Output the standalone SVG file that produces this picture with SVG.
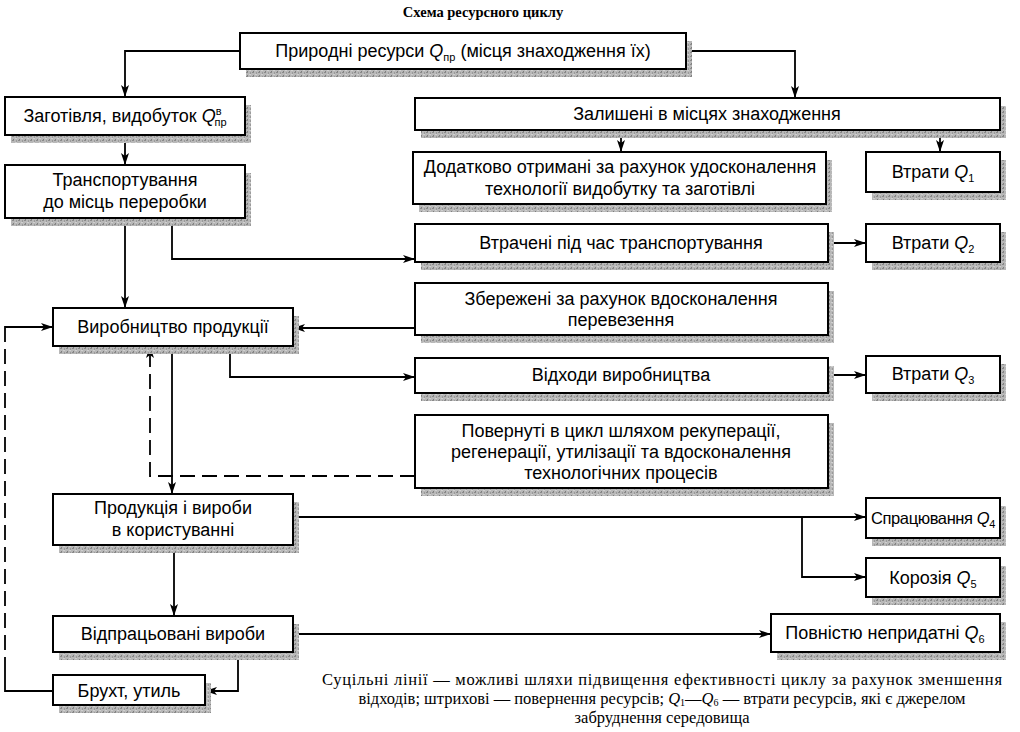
<svg xmlns="http://www.w3.org/2000/svg" width="1020" height="732" viewBox="0 0 1020 732">
<defs>
<marker id="ar" viewBox="0 0 12 8" refX="11" refY="4" markerWidth="12" markerHeight="8" markerUnits="userSpaceOnUse" orient="auto">
<path d="M0,0 L12,4 L0,8 L3,4 z" fill="#000"/>
</marker>
<pattern id="noise" width="6" height="4" patternUnits="userSpaceOnUse">
<rect width="6" height="4" fill="#b8b8b8"/>
<rect x="0" y="0" width="2" height="1" fill="#8a8a8a"/>
<rect x="3" y="2" width="2" height="1" fill="#d0d0d0"/>
<rect x="4" y="0" width="1" height="2" fill="#9a9a9a"/>
<rect x="1" y="3" width="1" height="1" fill="#7e7e7e"/>
</pattern>
</defs>
<style>
.sh{fill:url(#noise)}
.bx{fill:#fff;stroke:#000;stroke-width:2}
.t{font-family:"Liberation Sans",Arial,sans-serif;font-size:18px;text-anchor:middle;fill:#000}
.q{font-style:italic}
.s{font-size:11px}
.ln{fill:none;stroke:#000;stroke-width:1.8}
.ar{marker-end:url(#ar)}
.dash{stroke-dasharray:15,7}
.cap{font-family:"Liberation Serif","Times New Roman",serif;font-size:16.5px;text-anchor:middle;fill:#000}
.ttl{font-family:"Liberation Serif","Times New Roman",serif;font-size:14.5px;font-weight:bold;text-anchor:middle;fill:#000}
</style>
<rect width="1020" height="732" fill="#fff"/>
<text class="ttl" x="483" y="17">Схема ресурсного циклу</text>

<g id="connectors">
<path class="ln ar" d="M240,51 H125 V96"/>
<path class="ln ar" d="M686,51 H795 V97"/>
<path class="ln ar" d="M125,135 V164"/>
<path class="ln ar" d="M621,130 V151"/>
<path class="ln ar" d="M940,130 V151"/>
<path class="ln ar" d="M172,218 V259 H414"/>
<path class="ln ar" d="M125,218 V307"/>
<path class="ln ar" d="M828,243 H865"/>
<path class="ln ar" d="M415,328 H294"/>
<path class="ln ar" d="M230,346 V377 H414"/>
<path class="ln ar" d="M828,375 H865"/>
<path class="ln ar dash" d="M415,476 H150 V347"/>
<path class="ln ar" d="M172,346 V493"/>
<path class="ln ar" d="M293,517 H865"/>
<path class="ln ar" d="M802,517 V577 H865"/>
<path class="ln ar" d="M174,545 V615"/>
<path class="ln ar" d="M293,634 H770"/>
<path class="ln ar" d="M238,652 V691 H206"/>
<path class="ln" d="M53,691 H5 V672"/>
<path class="ln dash" d="M5,672 V342"/>
<path class="ln ar" d="M5,342 V327 H52"/>
</g>

<g id="n-pryrodni">
<rect class="sh" x="246" y="41" width="446" height="36"/>
<rect class="bx" x="240" y="33" width="446" height="36"/>
<text class="t" x="463" y="57">Природні ресурси <tspan class="q">Q</tspan><tspan class="s" dy="4">пр</tspan><tspan dy="-4"> (місця знаходження їх)</tspan></text>
</g>
<g id="n-zahotivlia">
<rect class="sh" x="11" y="105" width="240" height="38"/>
<rect class="bx" x="5" y="97" width="240" height="38"/>
<text class="t" x="125" y="122">Заготівля, видобуток <tspan class="q">Q</tspan><tspan class="s" dy="-7">в</tspan><tspan class="s" dx="-7" dy="11">пр</tspan></text>
</g>
<g id="n-transport">
<rect class="sh" x="11" y="173" width="240" height="53"/>
<rect class="bx" x="5" y="165" width="240" height="53"/>
<text class="t" x="125" y="186">Транспортування</text>
<text class="t" x="125" y="208">до місць переробки</text>
</g>
<g id="n-zalysheni">
<rect class="sh" x="421" y="106" width="585" height="32"/>
<rect class="bx" x="415" y="98" width="585" height="32"/>
<text class="t" x="707" y="120">Залишені в місцях знаходження</text>
</g>
<g id="n-dodatkovo">
<rect class="sh" x="419" y="160" width="413" height="52"/>
<rect class="bx" x="413" y="152" width="413" height="52"/>
<text class="t" x="620" y="173">Додатково отримані за рахунок удосконалення</text>
<text class="t" x="620" y="195">технології видобутку та заготівлі</text>
</g>
<g id="n-q1">
<rect class="sh" x="872" y="160" width="134" height="40"/>
<rect class="bx" x="866" y="152" width="134" height="40"/>
<text class="t" x="933" y="178">Втрати <tspan class="q">Q</tspan><tspan class="s" dy="4">1</tspan></text>
</g>
<g id="n-vtracheni">
<rect class="sh" x="421" y="232" width="413" height="38"/>
<rect class="bx" x="415" y="224" width="413" height="38"/>
<text class="t" x="621" y="249">Втрачені під час транспортування</text>
</g>
<g id="n-q2">
<rect class="sh" x="872" y="232" width="134" height="38"/>
<rect class="bx" x="866" y="224" width="134" height="38"/>
<text class="t" x="933" y="249">Втрати <tspan class="q">Q</tspan><tspan class="s" dy="4">2</tspan></text>
</g>
<g id="n-zberezheni">
<rect class="sh" x="421" y="291" width="413" height="52"/>
<rect class="bx" x="415" y="283" width="413" height="52"/>
<text class="t" x="621" y="305">Збережені за рахунок вдосконалення</text>
<text class="t" x="621" y="326">перевезення</text>
</g>
<g id="n-vyrobnytstvo">
<rect class="sh" x="59" y="316" width="240" height="38"/>
<rect class="bx" x="53" y="308" width="240" height="38"/>
<text class="t" x="173" y="333">Виробництво продукції</text>
</g>
<g id="n-vidkhody">
<rect class="sh" x="421" y="366" width="413" height="35"/>
<rect class="bx" x="415" y="358" width="413" height="35"/>
<text class="t" x="621" y="381">Відходи виробництва</text>
</g>
<g id="n-q3">
<rect class="sh" x="872" y="364" width="134" height="37"/>
<rect class="bx" x="866" y="356" width="134" height="37"/>
<text class="t" x="933" y="380">Втрати <tspan class="q">Q</tspan><tspan class="s" dy="4">3</tspan></text>
</g>
<g id="n-povernuti">
<rect class="sh" x="421" y="423" width="413" height="73"/>
<rect class="bx" x="415" y="415" width="413" height="73"/>
<text class="t" x="621" y="437">Повернуті в цикл шляхом рекуперації,</text>
<text class="t" x="621" y="458">регенерації, утилізації та вдосконалення</text>
<text class="t" x="621" y="479">технологічних процесів</text>
</g>
<g id="n-produktsiia">
<rect class="sh" x="59" y="502" width="240" height="51"/>
<rect class="bx" x="53" y="494" width="240" height="51"/>
<text class="t" x="173" y="514">Продукція і вироби</text>
<text class="t" x="173" y="536">в користуванні</text>
</g>
<g id="n-q4">
<rect class="sh" x="872" y="506" width="134" height="40"/>
<rect class="bx" x="866" y="498" width="134" height="40"/>
<text class="t" x="933" y="524" style="font-size:16.5px;letter-spacing:-0.4px">Спрацювання <tspan class="q">Q</tspan><tspan class="s" dy="4">4</tspan></text>
</g>
<g id="n-q5">
<rect class="sh" x="872" y="566" width="134" height="39"/>
<rect class="bx" x="866" y="558" width="134" height="39"/>
<text class="t" x="933" y="584">Корозія <tspan class="q">Q</tspan><tspan class="s" dy="4">5</tspan></text>
</g>
<g id="n-vidpratsovani">
<rect class="sh" x="59" y="624" width="240" height="36"/>
<rect class="bx" x="53" y="616" width="240" height="36"/>
<text class="t" x="173" y="640">Відпрацьовані вироби</text>
</g>
<g id="n-q6">
<rect class="sh" x="777" y="622" width="229" height="38"/>
<rect class="bx" x="771" y="614" width="229" height="38"/>
<text class="t" x="885" y="639">Повністю непридатні <tspan class="q">Q</tspan><tspan class="s" dy="4">6</tspan></text>
</g>
<g id="n-brukht">
<rect class="sh" x="59" y="683" width="152" height="30"/>
<rect class="bx" x="53" y="675" width="152" height="30"/>
<text class="t" x="129" y="697">Брухт, утиль</text>
</g>

<g id="caption">
<text class="cap" x="662" y="685" textLength="680" lengthAdjust="spacing">Суцільні лінії — можливі шляхи підвищення ефективності циклу за рахунок зменшення</text>
<text class="cap" x="662" y="704">відходів; штрихові — повернення ресурсів; <tspan font-style="italic">Q</tspan><tspan font-size="10" dy="2">1</tspan><tspan dy="-2">—</tspan><tspan font-style="italic">Q</tspan><tspan font-size="10" dy="2">6</tspan><tspan dy="-2"> — втрати ресурсів, які є джерелом</tspan></text>
<text class="cap" x="662" y="723">забруднення середовища</text>
</g>
</svg>
